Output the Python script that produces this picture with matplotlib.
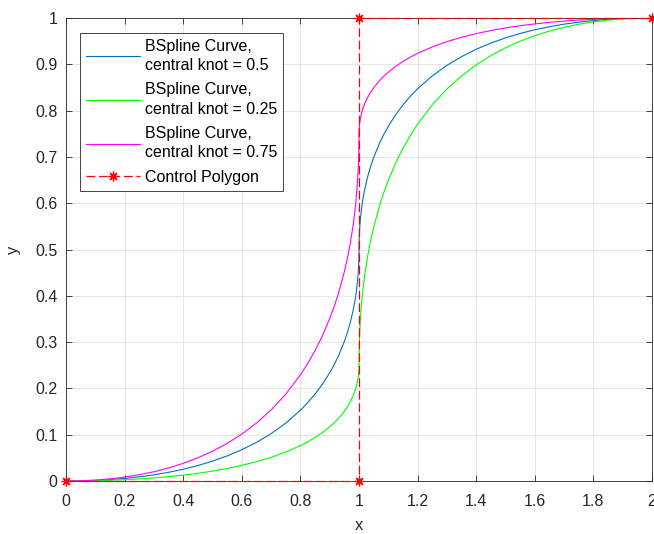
import matplotlib
matplotlib.use("Agg")
import matplotlib.pyplot as plt

plt.rcParams['font.family'] = ['Liberation Sans', 'DejaVu Sans']

x_vals = [0, 0.05, 0.1, 0.15, 0.2, 0.25, 0.3, 0.35, 0.4, 0.45, 0.5, 0.55, 0.6, 0.65, 0.7,
          0.75, 0.8, 0.825, 0.85, 0.875, 0.9, 0.915, 0.93, 0.95, 0.96, 0.97, 0.98, 0.985,
          0.99, 0.995, 0.998, 0.9995, 1.0,
          1.0005, 1.002, 1.005, 1.01, 1.015, 1.02, 1.03, 1.04, 1.05, 1.07, 1.085, 1.1,
          1.125, 1.15, 1.175, 1.2, 1.25, 1.3, 1.35, 1.4, 1.45, 1.5, 1.55, 1.6, 1.65, 1.7,
          1.75, 1.8, 1.85, 1.9, 1.95, 2.0]

y_knot_050 = [0, 0.0003, 0.0013, 0.0030, 0.0056, 0.0090, 0.0133, 0.0188, 0.0254, 0.0334,
              0.0429, 0.0542, 0.0675, 0.0834, 0.1023, 0.125, 0.1528, 0.1692, 0.1877, 0.2089,
              0.2338, 0.2510, 0.2704, 0.3014, 0.32, 0.3418, 0.3686, 0.3850, 0.405, 0.4318,
              0.4563, 0.4779, 0.5,
              0.5221, 0.5437, 0.5682, 0.595, 0.6150, 0.6314, 0.6582, 0.68, 0.6986, 0.7296,
              0.7490, 0.7662, 0.7911, 0.8123, 0.8308, 0.8472, 0.875, 0.8977, 0.9166, 0.9325,
              0.9458, 0.9571, 0.9666, 0.9746, 0.9812, 0.9867, 0.9910, 0.9944, 0.9970, 0.9987,
              0.9997, 1.0]

y_knot_025 = [0, 0.0002, 0.0007, 0.0015, 0.0028, 0.0045, 0.0067, 0.0094, 0.0127, 0.0167,
              0.0214, 0.0271, 0.0338, 0.0417, 0.0511, 0.0625, 0.0764, 0.0846, 0.0939, 0.1045,
              0.1169, 0.1255, 0.1352, 0.1507, 0.16, 0.1709, 0.1843, 0.1925, 0.2025, 0.2159,
              0.2281, 0.2389, 0.25,
              0.2832, 0.3156, 0.3523, 0.3925, 0.4225, 0.4471, 0.4873, 0.52, 0.5479, 0.5944,
              0.6236, 0.6493, 0.6866, 0.7184, 0.7462, 0.7708, 0.8125, 0.8466, 0.8749, 0.8987,
              0.9187, 0.9357, 0.9499, 0.9619, 0.9718, 0.98, 0.9865, 0.9916, 0.9954, 0.998,
              0.9995, 1.0]

y_knot_075 = [0, 0.0005, 0.0020, 0.0046, 0.0084, 0.0135, 0.0200, 0.0282, 0.0381, 0.0501,
              0.0643, 0.0813, 0.1013, 0.1251, 0.1534, 0.1875, 0.2292, 0.2538, 0.2816, 0.3134,
              0.3507, 0.3764, 0.4056, 0.4521, 0.48, 0.5127, 0.5529, 0.5775, 0.6075, 0.6477,
              0.6844, 0.7168, 0.75,
              0.7611, 0.7719, 0.7841, 0.7975, 0.8075, 0.8157, 0.8291, 0.84, 0.8493, 0.8648,
              0.8745, 0.8831, 0.8955, 0.9061, 0.9154, 0.9236, 0.9375, 0.9489, 0.9583, 0.9662,
              0.9729, 0.9786, 0.9833, 0.9873, 0.9906, 0.9933, 0.9955, 0.9972, 0.9985, 0.9993,
              0.9998, 1.0]

ctrl_x = [0, 1, 1, 2]
ctrl_y = [0, 0, 1, 1]

labels = ["BSpline Curve,\ncentral knot = 0.5",
          "BSpline Curve,\ncentral knot = 0.25",
          "BSpline Curve,\ncentral knot = 0.75",
          "Control Polygon"]

xticks = [0, 0.2, 0.4, 0.6, 0.8, 1, 1.2, 1.4, 1.6, 1.8, 2]
xtick_labels = ["0", "0.2", "0.4", "0.6", "0.8", "1", "1.2", "1.4", "1.6", "1.8", "2"]
yticks = [0, 0.1, 0.2, 0.3, 0.4, 0.5, 0.6, 0.7, 0.8, 0.9, 1]
ytick_labels = ["0", "0.1", "0.2", "0.3", "0.4", "0.5", "0.6", "0.7", "0.8", "0.9", "1"]

fig = plt.figure(figsize=(6.54, 5.34), dpi=100)
ax = fig.add_axes([66/654, 53/534, 586/654, 463/534])

ax.plot(x_vals, y_knot_050, color='#0072BD', lw=0.8, label=labels[0])
ax.plot(x_vals, y_knot_025, color='#00FF00', lw=0.8, label=labels[1])
ax.plot(x_vals, y_knot_075, color='#FF00FF', lw=0.8, label=labels[2])
ax.plot(ctrl_x, ctrl_y, color='#FF0000', lw=0.9, ls=(0, (7, 3)), marker=(8, 2, 0),
        markersize=7, markeredgewidth=0.9, label=labels[3], clip_on=False, zorder=3)

ax.set_xlim(0, 2)
ax.set_ylim(0, 1)
ax.set_xticks(xticks)
ax.set_xticklabels(xtick_labels)
ax.set_yticks(yticks)
ax.set_yticklabels(ytick_labels)
ax.tick_params(direction='in', length=4, width=0.6, colors='#262626', labelsize=11.5,
               top=True, right=True, labelcolor='#262626')
ax.tick_params(axis='x', pad=9)
ax.tick_params(axis='y', pad=6)
ax.grid(True, color='#e3e3e3', lw=0.6)
ax.set_axisbelow(True)
for s in ax.spines.values():
    s.set_color('#262626')
    s.set_linewidth(0.6)
ax.set_xlabel('x', fontsize=12, color='#262626', labelpad=7)
ax.set_ylabel('y', fontsize=12, color='#262626', labelpad=10)

leg = ax.legend(loc='upper left', bbox_to_anchor=(14/586, 1 - 15/463), fontsize=11.5,
                frameon=True, fancybox=False, edgecolor='#262626', framealpha=1,
                handlelength=3.4, labelspacing=0.6, borderpad=0.35, handletextpad=0.35,
                borderaxespad=0)
leg.get_frame().set_linewidth(0.6)
for t in leg.get_texts():
    t.set_linespacing(1.35)

fig.savefig('out.png', dpi=100)
